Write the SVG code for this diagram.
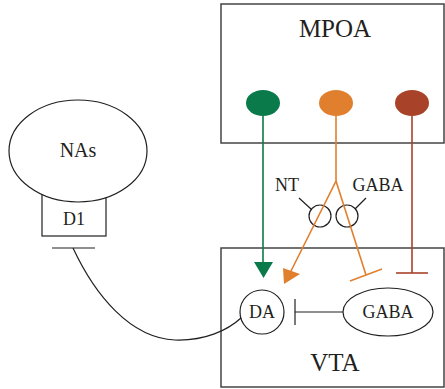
<svg xmlns="http://www.w3.org/2000/svg" width="445" height="389" viewBox="0 0 445 389">
<style>
text{font-family:"Liberation Serif","Times New Roman",serif;fill:#231f20;text-anchor:middle}
.box{fill:none;stroke:#444;stroke-width:1.5}
.k{fill:#fff;stroke:#231f20;stroke-width:1.2}
.kl{fill:none;stroke:#231f20;stroke-width:1.2}
.g{stroke:#0a7a4a;stroke-width:1.6;fill:none}
.o{stroke:#e07f2e;stroke-width:1.6;fill:none}
.r{stroke:#a84228;stroke-width:1.6;fill:none}
</style>
<rect width="445" height="389" fill="#fff"/>
<g id="MPOA">
<rect class="box" x="221" y="4" width="223" height="139"/>
<text x="335" y="37" font-size="25">MPOA</text>
<ellipse cx="263" cy="103" rx="17" ry="13" fill="#0a7a4a"/>
<ellipse cx="336" cy="103" rx="17" ry="13" fill="#e07f2e"/>
<ellipse cx="412" cy="103" rx="17" ry="13" fill="#a84228"/>
</g>
<g id="VTA">
<rect class="box" x="221" y="248" width="223" height="139"/>
<text x="335" y="371" font-size="25">VTA</text>
</g>
<g id="NAs">
<rect class="k" x="42" y="185" width="64" height="51"/>
<text x="74" y="225" font-size="18">D1</text>
<ellipse class="k" cx="78" cy="151" rx="69" ry="51"/>
<text x="78" y="157" font-size="20">NAs</text>
</g>
<g id="DA">
<circle class="k" cx="262" cy="312" r="22"/>
<text x="262" y="318" font-size="18">DA</text>
</g>
<g id="GABA">
<ellipse class="k" cx="388" cy="312" rx="45" ry="24"/>
<text x="388" y="318" font-size="18">GABA</text>
</g>
<g id="synapses">
<circle class="kl" cx="320" cy="216" r="11"/>
<circle class="kl" cx="347" cy="216" r="11"/>
<line class="kl" x1="299" y1="198" x2="311" y2="209"/>
<line class="kl" x1="366" y1="198" x2="355" y2="209"/>
<text x="287" y="191" font-size="18">NT</text>
<text x="378" y="191" font-size="18">GABA</text>
</g>
<g id="connectors">
<line class="g" x1="263" y1="116" x2="263" y2="263"/>
<polygon points="254,262 273,262 263.5,278" fill="#0a7a4a"/>
<polyline class="o" points="336,116 336,181 291,271"/>
<polygon points="283,268 300,274 284,284" fill="#e07f2e"/>
<line class="o" x1="336" y1="181" x2="366" y2="275"/>
<line class="o" x1="350" y1="281" x2="382" y2="269"/>
<line class="r" x1="412" y1="116" x2="412" y2="273"/>
<line class="r" x1="396" y1="273" x2="428" y2="273"/>
<line class="kl" x1="295" y1="312" x2="343" y2="312"/>
<line class="kl" x1="295" y1="299" x2="295" y2="325"/>
<line class="kl" x1="52" y1="248" x2="95" y2="248"/>
<path class="kl" d="M73,248 C95,295 130,338 175,340 C205,341 228,330 241,318"/>
</g>
</svg>
